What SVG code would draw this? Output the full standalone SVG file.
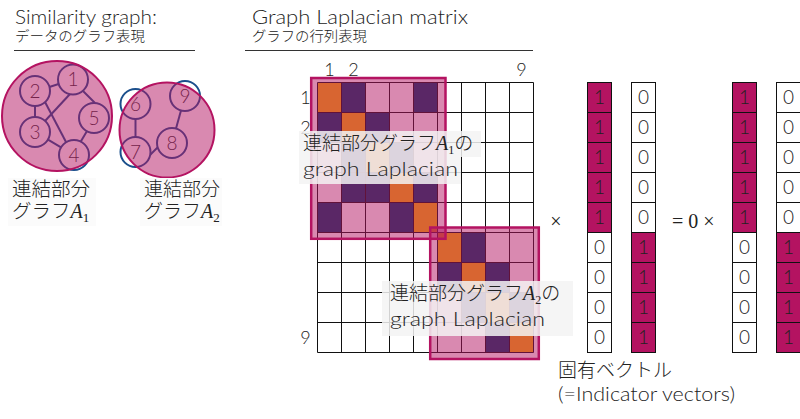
<svg xmlns="http://www.w3.org/2000/svg" width="800" height="419" viewBox="0 0 800 419">
<style>
.t{font-family:Lato,"Noto Sans CJK JP","Noto Sans",sans-serif;font-weight:300;fill:#222}
.m{font-family:"Liberation Serif",serif;font-style:italic;font-weight:normal}
.s{font-family:"Liberation Serif",serif;font-weight:normal}
.rule{stroke:#333;stroke-width:1}
.edge{stroke:#1b4f8c;stroke-width:2;fill:none}
.node circle{fill:#fff;stroke:#1b4f8c;stroke-width:2}
.node text{font-family:Lato,"Noto Sans",sans-serif;font-weight:300;font-size:19px;fill:#333;text-anchor:middle}
.clu{fill:#b41361;fill-opacity:.5;stroke:#b41361;stroke-width:2}
.o{fill:#fcb700}
.p{fill:#003b6b}
.grid line{stroke:#111;stroke-width:1}
.blk{fill:#b41361;fill-opacity:.5;stroke:#b41361;stroke-width:2.5}
.lbg{fill:#f3f3f3;fill-opacity:.85}
.v rect{stroke:#111;stroke-width:1}
.v .one{fill:#b41361}
.v .zero{fill:#fff}
.v text{font-family:Lato,"Noto Sans",sans-serif;font-weight:300;font-size:19px;fill:#222;text-anchor:middle}
.ax{font-family:Lato,"Noto Sans",sans-serif;font-weight:300;font-size:18px;fill:#222;text-anchor:middle}
</style>
<rect width="800" height="419" fill="#fff"/>

<g id="title-left">
<text class="t" x="15" y="24" font-size="19" textLength="142" lengthAdjust="spacingAndGlyphs">Similarity graph:</text>
<text class="t" x="15" y="41" font-size="14" textLength="130" lengthAdjust="spacingAndGlyphs">データのグラフ表現</text>
<line class="rule" x1="14" y1="50.5" x2="195" y2="50.5"/>
</g>
<g id="title-mid">
<text class="t" x="252" y="24" font-size="19" textLength="216" lengthAdjust="spacingAndGlyphs">Graph Laplacian matrix</text>
<text class="t" x="252" y="41" font-size="14" textLength="115" lengthAdjust="spacingAndGlyphs">グラフの行列表現</text>
<line class="rule" x1="245" y1="50.5" x2="533" y2="50.5"/>
</g>

<g id="connectors">
<line class="edge" x1="58.6" y1="84" x2="49.4" y2="87"/>
<line class="edge" x1="35" y1="106" x2="35" y2="117"/>
<line class="edge" x1="45" y1="102" x2="66" y2="142"/>
<line class="edge" x1="70" y1="94" x2="45" y2="121"/>
<line class="edge" x1="83" y1="91" x2="95" y2="103"/>
<line class="edge" x1="48" y1="139.6" x2="61" y2="147.4"/>
<line class="edge" x1="80.5" y1="142" x2="87" y2="131"/>
<line class="edge" x1="135.5" y1="119" x2="135.5" y2="137"/>
<line class="edge" x1="181" y1="110.5" x2="176" y2="128.5"/>
<line class="edge" x1="150" y1="155" x2="158" y2="147"/>
</g>

<g id="node1" class="node"><circle cx="73" cy="79.5" r="15"/><text x="73" y="86">1</text></g>
<g id="node2" class="node"><circle cx="35" cy="91" r="15"/><text x="35" y="97.5">2</text></g>
<g id="node3" class="node"><circle cx="35" cy="132" r="15"/><text x="35" y="138.5">3</text></g>
<g id="node4" class="node"><circle cx="74" cy="155" r="15"/><text x="74" y="161.5">4</text></g>
<g id="node5" class="node"><circle cx="94" cy="118" r="15"/><text x="94" y="124.5">5</text></g>
<g id="node6" class="node"><circle cx="135.5" cy="104" r="15"/><text x="135.5" y="110.5">6</text></g>
<g id="node7" class="node"><circle cx="135.5" cy="152" r="15"/><text x="135.5" y="158.5">7</text></g>
<g id="node8" class="node"><circle cx="172" cy="143" r="15"/><text x="172" y="149.5">8</text></g>
<g id="node9" class="node"><circle cx="185" cy="96" r="15"/><text x="185" y="102.5">9</text></g>

<g id="cluster-A1"><circle class="clu" cx="57" cy="116" r="55"/></g>
<g id="cluster-A2"><circle class="clu" cx="167" cy="130" r="47.5"/></g>

<g id="label-A1">
<rect x="8" y="178" width="88" height="48" fill="#fbfbfb"/>
<text class="t" x="12" y="196" font-size="19.5">連結部分</text>
<text class="t" x="12" y="218" font-size="19.5">グラフ<tspan class="m" font-size="20">A</tspan><tspan class="s" font-size="13" dy="4">1</tspan></text>
</g>
<g id="label-A2">
<rect x="140" y="178" width="82" height="48" fill="#fbfbfb"/>
<text class="t" x="144" y="196" font-size="19">連結部分</text>
<text class="t" x="144" y="218" font-size="19">グラフ<tspan class="m" font-size="20">A</tspan><tspan class="s" font-size="13" dy="4">2</tspan></text>
</g>

<g id="matrix">
<g id="cells">
<rect class="o" x="317.5" y="82.5" width="24" height="30"/>
<rect class="p" x="341.5" y="82.5" width="24" height="30"/>
<rect class="p" x="413.5" y="82.5" width="24" height="30"/>
<rect class="p" x="317.5" y="112.5" width="24" height="30"/>
<rect class="o" x="341.5" y="112.5" width="24" height="30"/>
<rect class="p" x="365.5" y="112.5" width="24" height="30"/>
<rect class="p" x="341.5" y="142.5" width="24" height="30"/>
<rect class="o" x="365.5" y="142.5" width="24" height="30"/>
<rect class="p" x="389.5" y="142.5" width="24" height="30"/>
<rect class="p" x="341.5" y="172.5" width="24" height="30"/>
<rect class="p" x="365.5" y="172.5" width="24" height="30"/>
<rect class="o" x="389.5" y="172.5" width="24" height="30"/>
<rect class="p" x="413.5" y="172.5" width="24" height="30"/>
<rect class="p" x="317.5" y="202.5" width="24" height="30"/>
<rect class="p" x="389.5" y="202.5" width="24" height="30"/>
<rect class="o" x="413.5" y="202.5" width="24" height="30"/>
<rect class="o" x="437.5" y="232.5" width="24" height="30"/>
<rect class="p" x="461.5" y="232.5" width="24" height="30"/>
<rect class="p" x="437.5" y="262.5" width="24" height="30"/>
<rect class="o" x="461.5" y="262.5" width="24" height="30"/>
<rect class="p" x="485.5" y="262.5" width="24" height="30"/>
<rect class="p" x="461.5" y="292.5" width="24" height="30"/>
<rect class="o" x="485.5" y="292.5" width="24" height="30"/>
<rect class="p" x="509.5" y="292.5" width="24" height="30"/>
<rect class="p" x="485.5" y="322.5" width="24" height="30"/>
<rect class="o" x="509.5" y="322.5" width="24" height="30"/>
</g>
<g class="grid">
<line x1="317.5" y1="82.5" x2="317.5" y2="352.5"/>
<line x1="341.5" y1="82.5" x2="341.5" y2="352.5"/>
<line x1="365.5" y1="82.5" x2="365.5" y2="352.5"/>
<line x1="389.5" y1="82.5" x2="389.5" y2="352.5"/>
<line x1="413.5" y1="82.5" x2="413.5" y2="352.5"/>
<line x1="437.5" y1="82.5" x2="437.5" y2="352.5"/>
<line x1="461.5" y1="82.5" x2="461.5" y2="352.5"/>
<line x1="485.5" y1="82.5" x2="485.5" y2="352.5"/>
<line x1="509.5" y1="82.5" x2="509.5" y2="352.5"/>
<line x1="533.5" y1="82.5" x2="533.5" y2="352.5"/>
<line x1="317.5" y1="82.5" x2="533.5" y2="82.5"/>
<line x1="317.5" y1="112.5" x2="533.5" y2="112.5"/>
<line x1="317.5" y1="142.5" x2="533.5" y2="142.5"/>
<line x1="317.5" y1="172.5" x2="533.5" y2="172.5"/>
<line x1="317.5" y1="202.5" x2="533.5" y2="202.5"/>
<line x1="317.5" y1="232.5" x2="533.5" y2="232.5"/>
<line x1="317.5" y1="262.5" x2="533.5" y2="262.5"/>
<line x1="317.5" y1="292.5" x2="533.5" y2="292.5"/>
<line x1="317.5" y1="322.5" x2="533.5" y2="322.5"/>
<line x1="317.5" y1="352.5" x2="533.5" y2="352.5"/>
</g>
<text class="ax" x="329.5" y="76">1</text>
<text class="ax" x="353.5" y="76">2</text>
<text class="ax" x="521.5" y="76">9</text>
<text class="ax" x="305.5" y="104">1</text>
<text class="ax" x="305.5" y="134">2</text>
<text class="ax" x="305.5" y="344">9</text>
</g>

<g id="block-A1"><rect class="blk" x="311.2" y="78" width="134.3" height="160.8"/></g>
<g id="block-A2"><rect class="blk" x="430.2" y="227.5" width="108.6" height="131.5"/></g>

<g id="note-A1">
<rect class="lbg" x="299" y="131" width="182" height="26"/>
<rect class="lbg" x="299" y="157" width="162" height="27"/>
<text class="t" x="303" y="150" font-size="19">連結部分グラフ<tspan class="m" font-size="20">A</tspan><tspan class="s" font-size="12" dy="4">1</tspan><tspan dy="-4">の</tspan></text>
<text class="t" x="303" y="176" font-size="19" textLength="155" lengthAdjust="spacingAndGlyphs">graph Laplacian</text>
</g>
<g id="note-A2">
<rect class="lbg" x="382" y="281" width="191" height="26"/>
<rect class="lbg" x="382" y="307" width="191" height="29"/>
<text class="t" x="390" y="300" font-size="19">連結部分グラフ<tspan class="m" font-size="20">A</tspan><tspan class="s" font-size="12" dy="4">2</tspan><tspan dy="-4">の</tspan></text>
<text class="t" x="390" y="326" font-size="19" textLength="155" lengthAdjust="spacingAndGlyphs">graph Laplacian</text>
</g>

<text class="s" x="556" y="228" font-size="20" text-anchor="middle" fill="#222">×</text>

<g id="vec1" class="v">
<rect class="one" x="587.5" y="82.5" width="24" height="30"/><text x="599.5" y="104">1</text>
<rect class="one" x="587.5" y="112.5" width="24" height="30"/><text x="599.5" y="134">1</text>
<rect class="one" x="587.5" y="142.5" width="24" height="30"/><text x="599.5" y="164">1</text>
<rect class="one" x="587.5" y="172.5" width="24" height="30"/><text x="599.5" y="194">1</text>
<rect class="one" x="587.5" y="202.5" width="24" height="30"/><text x="599.5" y="224">1</text>
<rect class="zero" x="587.5" y="232.5" width="24" height="30"/><text x="599.5" y="254">0</text>
<rect class="zero" x="587.5" y="262.5" width="24" height="30"/><text x="599.5" y="284">0</text>
<rect class="zero" x="587.5" y="292.5" width="24" height="30"/><text x="599.5" y="314">0</text>
<rect class="zero" x="587.5" y="322.5" width="24" height="30"/><text x="599.5" y="344">0</text>
</g>
<g id="vec2" class="v">
<rect class="zero" x="631.5" y="82.5" width="24" height="30"/><text x="643.5" y="104">0</text>
<rect class="zero" x="631.5" y="112.5" width="24" height="30"/><text x="643.5" y="134">0</text>
<rect class="zero" x="631.5" y="142.5" width="24" height="30"/><text x="643.5" y="164">0</text>
<rect class="zero" x="631.5" y="172.5" width="24" height="30"/><text x="643.5" y="194">0</text>
<rect class="zero" x="631.5" y="202.5" width="24" height="30"/><text x="643.5" y="224">0</text>
<rect class="one" x="631.5" y="232.5" width="24" height="30"/><text x="643.5" y="254">1</text>
<rect class="one" x="631.5" y="262.5" width="24" height="30"/><text x="643.5" y="284">1</text>
<rect class="one" x="631.5" y="292.5" width="24" height="30"/><text x="643.5" y="314">1</text>
<rect class="one" x="631.5" y="322.5" width="24" height="30"/><text x="643.5" y="344">1</text>
</g>

<text class="s" x="672" y="228" font-size="20" fill="#222">= 0 ×</text>

<g id="vec3" class="v">
<rect class="one" x="732.5" y="82.5" width="24" height="30"/><text x="744.5" y="104">1</text>
<rect class="one" x="732.5" y="112.5" width="24" height="30"/><text x="744.5" y="134">1</text>
<rect class="one" x="732.5" y="142.5" width="24" height="30"/><text x="744.5" y="164">1</text>
<rect class="one" x="732.5" y="172.5" width="24" height="30"/><text x="744.5" y="194">1</text>
<rect class="one" x="732.5" y="202.5" width="24" height="30"/><text x="744.5" y="224">1</text>
<rect class="zero" x="732.5" y="232.5" width="24" height="30"/><text x="744.5" y="254">0</text>
<rect class="zero" x="732.5" y="262.5" width="24" height="30"/><text x="744.5" y="284">0</text>
<rect class="zero" x="732.5" y="292.5" width="24" height="30"/><text x="744.5" y="314">0</text>
<rect class="zero" x="732.5" y="322.5" width="24" height="30"/><text x="744.5" y="344">0</text>
</g>
<g id="vec4" class="v">
<rect class="zero" x="776.5" y="82.5" width="24" height="30"/><text x="788.5" y="104">0</text>
<rect class="zero" x="776.5" y="112.5" width="24" height="30"/><text x="788.5" y="134">0</text>
<rect class="zero" x="776.5" y="142.5" width="24" height="30"/><text x="788.5" y="164">0</text>
<rect class="zero" x="776.5" y="172.5" width="24" height="30"/><text x="788.5" y="194">0</text>
<rect class="zero" x="776.5" y="202.5" width="24" height="30"/><text x="788.5" y="224">0</text>
<rect class="one" x="776.5" y="232.5" width="24" height="30"/><text x="788.5" y="254">1</text>
<rect class="one" x="776.5" y="262.5" width="24" height="30"/><text x="788.5" y="284">1</text>
<rect class="one" x="776.5" y="292.5" width="24" height="30"/><text x="788.5" y="314">1</text>
<rect class="one" x="776.5" y="322.5" width="24" height="30"/><text x="788.5" y="344">1</text>
</g>

<g id="caption">
<text class="t" x="558" y="377" font-size="19">固有ベクトル</text>
<text class="t" x="558" y="401" font-size="19" textLength="177" lengthAdjust="spacingAndGlyphs">(=Indicator vectors)</text>
</g>
</svg>
